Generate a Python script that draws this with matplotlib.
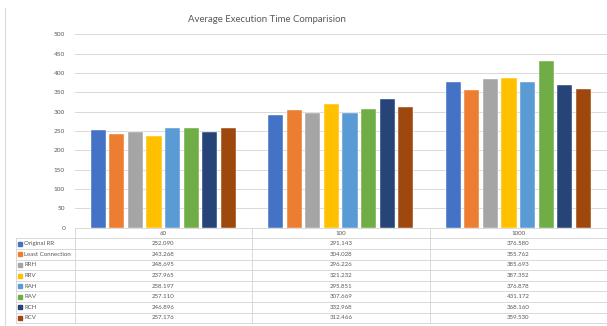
import numpy as np
import matplotlib.pyplot as plt
from matplotlib.lines import Line2D

plt.rcParams['font.family'] = ['Lato', 'DejaVu Sans']

# Average execution time per algorithm, for each number of requests
categories = ["60", "100", "1000"]
algorithms = ["Original RR", "Least Connection", "RRH", "RRV", "RAH", "RAV", "RCH", "RCV"]
original_rr = [252.090, 291.143, 376.580]
least_connection = [243.268, 304.028, 355.762]
rrh = [248.695, 296.226, 385.693]
rrv = [237.965, 321.232, 387.352]
rah = [258.197, 295.851, 376.878]
rav = [257.110, 307.669, 431.172]
rch = [246.896, 332.968, 368.160]
rcv = [257.176, 312.466, 359.530]
series = [original_rr, least_connection, rrh, rrv, rah, rav, rch, rcv]

colors = ["#4472C4", "#ED7D31", "#A5A5A5", "#FFC000",
          "#5B9BD5", "#70AD47", "#264478", "#9E480E"]
text_col = "#595959"
line_col = "#D9D9D9"

W, H = 607, 326
fig = plt.figure(figsize=(W / 100, H / 100), dpi=100)

# plot area in pixel positions
px_left, px_right = 74.5, 607
px_top, px_zero = 34.4, 227.7
ax = fig.add_axes([px_left / W, (H - px_zero) / H,
                   (px_right - px_left) / W, (px_zero - px_top) / H])

x = np.arange(len(categories))
pitch = 0.1048
for i, vals in enumerate(series):
    ax.bar(x + (i - 3.5) * pitch, vals, width=0.086, color=colors[i],
           edgecolor="white", linewidth=0.3, zorder=3)

ax.set_xlim(-0.5, 2.5)
ax.set_ylim(0, 500)
ax.set_yticks(range(0, 501, 50))
ax.set_xticks([])
ax.grid(axis="y", color=line_col, linewidth=0.7, zorder=0)
for s in ax.spines.values():
    s.set_visible(False)
ax.tick_params(axis="y", length=0, pad=6.8, labelsize=4.6, labelcolor=text_col)

fig.text(266.5 / W, 1 - 19 / H, "Average Execution Time Comparision",
         ha="center", va="center", fontsize=6.9, color=text_col)

# data table under the chart
tab_left, tab_bottom = 16, 323.3
unit = (px_right - px_left) / 3.0
tab = fig.add_axes([tab_left / W, (H - tab_bottom) / H,
                    (W - tab_left) / W, (tab_bottom - px_zero) / H])
tab.set_xlim(-0.5 - (px_left - tab_left) / unit, 2.5)
nrows = len(algorithms) + 1
tab.set_ylim(nrows, 0)
tab.axis("off")
x0 = -0.5 - (px_left - tab_left) / unit

kw = dict(color=line_col, linewidth=0.7, clip_on=False)
tab.plot([-0.5, 2.5], [0, 0], **kw)
for r in range(1, nrows + 1):
    tab.plot([x0, 2.5], [r, r], **kw)
tab.plot([x0, x0], [1, nrows], **kw)
for c in [-0.5, 0.5, 1.5]:
    tab.plot([c, c], [0, nrows], **kw)

for j, cat in enumerate(categories):
    tab.text(j, 0.5, cat, ha="center", va="center", fontsize=4.4, color=text_col)
for i, name in enumerate(algorithms):
    tab.add_line(Line2D([x0 + 0.02], [i + 1.5], marker="s", markersize=2.6,
                        color=colors[i], linestyle="none"))
    tab.text(x0 + 0.047, i + 1.5, name, ha="left", va="center",
             fontsize=4.4, color=text_col)
    for j in range(len(categories)):
        tab.text(j, i + 1.5, f"{series[i][j]:.3f}", ha="center", va="center",
                 fontsize=4.4, color=text_col)

# chart area border on the left
fig.add_artist(Line2D([5 / W, 5 / W], [0, 1 - 8 / H], color=line_col, linewidth=0.8))

fig.savefig("out.png", dpi=100)
